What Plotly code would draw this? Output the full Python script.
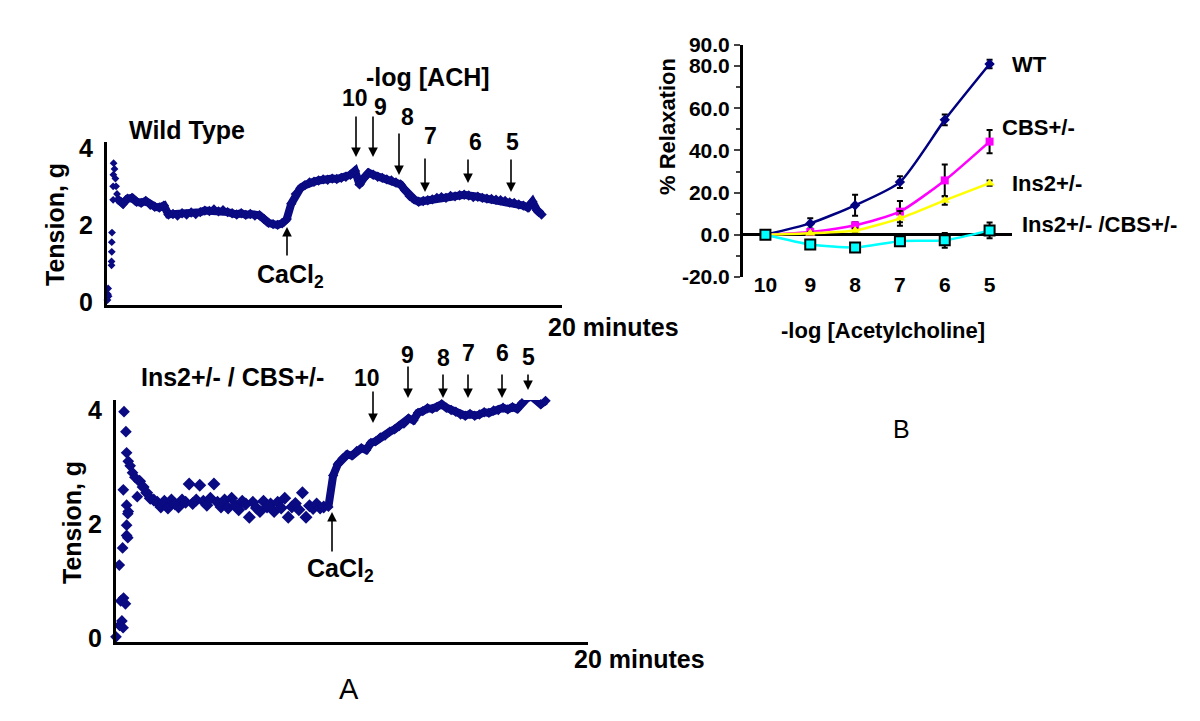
import numpy as np
import plotly.graph_objects as go

W, H = 1200, 721
OFFSET = 8  # default page body margin that the figure div sits in
FONT = "Liberation Sans, Arial, sans-serif"
NAVY = "#0a0a82"

# ---- panel A, top: wild type tension trace (g) ----
wt_spike_min = [0.02, 0.04, 0.05, 0.07, 0.20, 0.20, 0.21, 0.21, 0.22, 0.27, 0.27, 0.28, 0.29, 0.33, 0.37, 0.40, 0.44]
wt_spike_g = [0.05, 0.2, 0.35, 0.15, 0.95, 1.05, 1.3, 1.55, 1.8, 2.65, 3.0, 3.3, 3.6, 3.45, 3.2, 3.0, 2.8]
wt_start, wt_step = 0.5, 0.2  # minutes
wt_tension = [
    2.65, 2.55, 2.68, 2.70, 2.60, 2.57, 2.62, 2.52, 2.47, 2.45,
    2.50, 2.27, 2.28, 2.24, 2.30, 2.27, 2.32, 2.28, 2.33, 2.37,
    2.36, 2.40, 2.35, 2.38, 2.33, 2.30, 2.27, 2.30, 2.26, 2.28,
    2.24, 2.25, 2.15, 2.05, 2.02, 2.00, 2.04, 2.15, 2.55, 2.80,
    2.95, 3.03, 3.10, 3.12, 3.15, 3.18, 3.17, 3.20, 3.19, 3.22,
    3.25, 3.30, 3.40, 3.05, 3.22, 3.35, 3.30, 3.25, 3.22, 3.18,
    3.15, 3.10, 3.05, 2.90, 2.75, 2.66, 2.60, 2.62, 2.64, 2.66,
    2.70, 2.72, 2.70, 2.75, 2.74, 2.77, 2.78, 2.76, 2.72, 2.73,
    2.70, 2.68, 2.67, 2.65, 2.64, 2.62, 2.58, 2.57, 2.53, 2.50,
    2.45, 2.60, 2.38, 2.27,
]

# ---- panel A, bottom: Ins2+/- / CBS+/- tension trace (g) ----
dbl_spike_min = [0.0, 0.15, 0.25, 0.30, 0.20, 0.32, 0.40, 0.14, 0.28, 0.45, 0.50, 0.45,
                 0.50, 0.52, 0.45, 0.31, 0.34, 0.42, 0.45, 0.52, 0.60, 0.70, 0.90, 0.80]
dbl_spike_g = [0.02, 0.22, 0.30, 0.18, 0.65, 0.70, 0.60, 1.28, 1.58, 1.80, 1.76, 1.98,
               2.18, 2.22, 2.33, 2.60, 3.97, 3.62, 3.25, 3.10, 3.02, 2.90, 2.48, 2.82]
dbl_flat_start, dbl_flat_step = 1.0, 0.15
dbl_flat_g = [
    2.75, 2.65, 2.55, 2.45, 2.42, 2.38, 2.30, 2.40, 2.28, 2.42,
    2.35, 2.30, 2.42, 2.38, 2.70, 2.36, 2.42, 2.68, 2.40, 2.33,
    2.45, 2.70, 2.38, 2.30, 2.42, 2.28, 2.45, 2.33, 2.25, 2.40,
    2.35, 2.12, 2.38, 2.28, 2.22, 2.40, 2.30, 2.35, 2.22, 2.38,
    2.28, 2.45, 2.12, 2.30, 2.36, 2.25, 2.55, 2.12, 2.32, 2.27,
    2.35, 2.28, 2.30,
]
dbl_rise_start, dbl_rise_step = 9.0, 0.2
dbl_rise_g = [
    2.30, 2.85, 3.05, 3.15, 3.22, 3.20, 3.28, 3.33, 3.30, 3.42,
    3.45, 3.52, 3.55, 3.62, 3.66, 3.72, 3.76, 3.85, 3.82, 3.95,
    3.98, 4.03, 4.02, 4.05, 4.10, 4.04, 4.00, 3.97, 3.92, 3.90,
    3.93, 3.90, 3.92, 3.96, 3.95, 3.99, 4.00, 4.04, 4.01, 4.05,
    4.02, 4.12, 4.20, 4.24, 4.18, 4.10, 4.16,
]

# ---- panel B: % relaxation vs -log[ACh] ----
log_ach = [10, 9, 8, 7, 6, 5]
groups = ["WT", "CBS+/-", "Ins2+/-", "Ins2+/- /CBS+/-"]
relax_wt = [0.0, 5.4, 14.0, 25.0, 54.5, 81.0]
relax_cbs = [0.0, 1.3, 4.5, 11.0, 25.8, 44.2]
relax_ins2 = [0.0, 0.7, 2.0, 7.8, 16.3, 24.5]
relax_dbl = [0.0, -4.6, -6.0, -3.0, -2.6, 2.1]
err_wt = [0.0, 2.4, 5.0, 2.8, 2.5, 2.0]
err_cbs = [0.0, 0.8, 1.5, 5.0, 7.5, 5.5]
err_ins2 = [0.0, 0.5, 1.0, 3.5, 2.0, 1.2]
err_dbl = [0.0, 1.0, 1.0, 1.5, 3.5, 3.7]


def px(x):
    return (x - OFFSET) / W


def py(y):
    return 1 - (y - OFFSET) / H


fig = go.Figure()

# top trace
fig.add_trace(go.Scatter(x=wt_spike_min, y=wt_spike_g, mode="markers",
                         marker=dict(symbol="diamond", size=6, color=NAVY),
                         xaxis="x", yaxis="y", cliponaxis=False))
fig.add_trace(go.Scatter(x=wt_start + wt_step * np.arange(len(wt_tension)), y=wt_tension,
                         mode="lines+markers", line=dict(color=NAVY, width=8),
                         marker=dict(symbol="diamond", size=8, color=NAVY),
                         xaxis="x", yaxis="y", cliponaxis=False))

# bottom trace
fig.add_trace(go.Scatter(x=dbl_spike_min, y=dbl_spike_g, mode="markers",
                         marker=dict(symbol="diamond", size=9, color=NAVY),
                         xaxis="x2", yaxis="y2", cliponaxis=False))
fig.add_trace(go.Scatter(x=dbl_flat_start + dbl_flat_step * np.arange(len(dbl_flat_g)), y=dbl_flat_g,
                         mode="markers", marker=dict(symbol="diamond", size=10, color=NAVY),
                         xaxis="x2", yaxis="y2", cliponaxis=False))
fig.add_trace(go.Scatter(x=dbl_rise_start + dbl_rise_step * np.arange(len(dbl_rise_g)), y=dbl_rise_g,
                         mode="lines+markers", line=dict(color=NAVY, width=8),
                         marker=dict(symbol="diamond", size=8, color=NAVY),
                         xaxis="x2", yaxis="y2", cliponaxis=False))

# panel B curves
series = [
    (relax_wt, err_wt, "#000080", dict(symbol="diamond", size=8, color="#000080")),
    (relax_cbs, err_cbs, "#ff00ff", dict(symbol="square", size=8, color="#ff00ff")),
    (relax_ins2, err_ins2, "#ffff00", dict(symbol="triangle-up", size=9, color="#ffff00")),
    (relax_dbl, err_dbl, "#00ffff", dict(symbol="square", size=10, color="#00ffff",
                                          line=dict(color="black", width=2))),
]
for (vals, errs, col, mk), name in zip(series, groups):
    fig.add_trace(go.Scatter(
        x=log_ach, y=vals, name=name, mode="lines+markers",
        line=dict(color=col, width=2.5, shape="spline", smoothing=0.6),
        marker=mk,
        error_y=dict(type="data", array=errs, color="black", thickness=2, width=3),
        xaxis="x3", yaxis="y3", cliponaxis=False,
    ))

bold = dict(family=FONT, color="black", weight="bold")
hidden_x = dict(showline=True, linewidth=3, linecolor="black", ticks="", automargin=False,
                showticklabels=False, showgrid=False, zeroline=False, range=[0, 20])
trace_y = dict(showline=True, linewidth=3, linecolor="black", ticks="", automargin=False,
               tickvals=[0, 2, 4], tickfont=dict(size=25, **bold),
               showgrid=False, zeroline=False)

fig.update_layout(
    width=W, height=H, margin=dict(l=0, r=0, t=0, b=0, autoexpand=False),
    paper_bgcolor="white", plot_bgcolor="white", showlegend=False,
    font=dict(family=FONT, color="black"),
    xaxis=dict(domain=[px(107), px(562)], anchor="y", **hidden_x),
    yaxis=dict(domain=[py(305), py(142)], anchor="x", range=[-0.08, 4.15],
               ticklabelstandoff=6, **trace_y),
    xaxis2=dict(domain=[px(116), px(588)], anchor="y2", **hidden_x),
    yaxis2=dict(domain=[py(642), py(400)], anchor="x2", range=[-0.07, 4.175],
                ticklabelstandoff=6, **trace_y),
    # tick labels of panel B sit just under the plot, so the axis floats a little higher
    xaxis3=dict(domain=[px(743), px(1012)], anchor="free", position=py(270), range=[10.5, 4.5],
                tickvals=log_ach, ticks="", showline=False, showgrid=False, automargin=False,
                zeroline=False, tickfont=dict(size=21, **bold)),
    yaxis3=dict(domain=[py(277), py(45)], anchor="x3", range=[-20, 90],
                tickvals=[-20, 0, 20, 40, 60, 80, 90],
                ticktext=["-20.0", "0.0", "20.0", "40.0", "60.0", "80.0", "90.0"],
                tickfont=dict(size=21, **bold), showline=True, linewidth=3, automargin=False,
                linecolor="black", ticks="outside", ticklen=6, tickwidth=2,
                minor=dict(tickmode="array", tickvals=[-10, 10, 30, 50, 70],
                           ticks="outside", ticklen=4, tickwidth=2),
                showgrid=False, zeroline=True, zerolinecolor="black", zerolinewidth=3),
)


def label(text, x, y, size=25, angle=0, weight="bold", xanchor="center"):
    fig.add_annotation(text=text, x=px(x), y=py(y), xref="paper", yref="paper",
                       showarrow=False, textangle=angle, xanchor=xanchor, yanchor="middle",
                       font=dict(family=FONT, size=size, color="black", weight=weight))


def arrow(x, y_head, y_tail):
    fig.add_annotation(text="", x=px(x), y=py(y_head), xref="paper", yref="paper",
                       showarrow=True, ax=0, ay=y_tail - y_head, arrowhead=2,
                       arrowsize=1.2, arrowwidth=1.6, arrowcolor="black")


# panel A top texts
label("Wild Type", 187, 130)
label("-log [ACH]", 428, 77)
label("20 minutes", 613, 327)
label("Tension, g", 55, 225, angle=-90)
label("CaCl<sub>2</sub>", 290, 276)
arrow(287, 227, 257)
for txt, lx, ly, ax_, hy, ty in [("10", 355, 98, 356, 157, 115), ("9", 380, 107, 373, 157, 115),
                                 ("8", 407, 117, 399, 175, 132), ("7", 430, 136, 425, 192, 157),
                                 ("6", 475, 142, 468, 183, 158), ("5", 512, 142, 511, 192, 158)]:
    label(txt, lx, ly, size=23)
    arrow(ax_, hy, ty)

# panel A bottom texts
label("Ins2+/- / CBS+/-", 232, 377)
label("20 minutes", 640, 659)
label("Tension, g", 72, 523, angle=-90)
label("CaCl<sub>2</sub>", 340, 570)
arrow(332, 512, 553)
for txt, lx, ly, ax_, hy, ty in [("10", 367, 378, 373, 423, 390), ("9", 407, 355, 408, 398, 365),
                                 ("8", 443, 358, 443, 398, 373), ("7", 468, 353, 468, 398, 373),
                                 ("6", 502, 353, 502, 398, 373), ("5", 528, 357, 528, 390, 373)]:
    label(txt, lx, ly, size=23)
    arrow(ax_, hy, ty)

# panel B texts
label("% Relaxation", 667, 127, size=22, angle=-90)
label("-log [Acetylcholine]", 883, 330, size=22)
for name, lx, ly in zip(groups, [1010, 1000, 1010, 1020], [65, 127, 183, 225]):
    label(name, lx, ly, size=22, xanchor="left")

label("A", 349, 689, size=29, weight="normal")
label("B", 901, 429, size=25, weight="normal")

fig.write_html("out.html")
